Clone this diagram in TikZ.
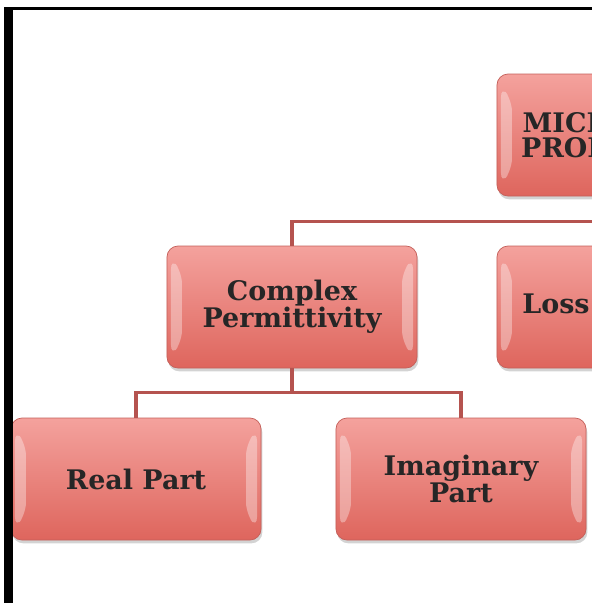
\documentclass[tikz,border=0pt]{standalone}
\usepackage{fontspec}
\setmainfont{DejaVu Serif}
\usetikzlibrary{shadows}
\definecolor{boxtop}{HTML}{F4A29D}
\definecolor{boxbot}{HTML}{DE655D}
\definecolor{boxedge}{HTML}{C4605A}
\definecolor{linkred}{HTML}{B5534F}
\newcommand{\boxbevel}{%
  \fill[white,opacity=.35] ([xshift=0.12cm,yshift=-0.35cm]path picture bounding box.north west) -- ([xshift=0.45cm,yshift=-0.8cm]path picture bounding box.north west) -- ([xshift=0.45cm,yshift=0.8cm]path picture bounding box.south west) -- ([xshift=0.12cm,yshift=0.35cm]path picture bounding box.south west) -- cycle;
  \fill[white,opacity=.35] ([xshift=-0.12cm,yshift=-0.35cm]path picture bounding box.north east) -- ([xshift=-0.45cm,yshift=-0.8cm]path picture bounding box.north east) -- ([xshift=-0.45cm,yshift=0.8cm]path picture bounding box.south east) -- ([xshift=-0.12cm,yshift=0.35cm]path picture bounding box.south east) -- cycle;}
\tikzset{
  propbox/.style={rounded corners=0.33cm, draw=boxedge, line width=0.6pt,
    top color=boxtop, bottom color=boxbot, minimum width=7.5cm, minimum height=3.66cm,
    align=center, font=\fontsize{23}{21}\selectfont\bfseries, text=black!85,
    drop shadow={opacity=0.35, shadow xshift=0.04cm, shadow yshift=-0.1cm},
    path picture={\boxbevel}},
  link/.style={draw=linkred, line width=0.1cm}
}
\begin{document}
\begin{tikzpicture}[x=0.03cm, y=-0.03cm]
	\useasboundingbox (0,0) rectangle (592,603);
	\clip (0,0) rectangle (592,603);
	% boxes
	\node[propbox] (micro) at (622,135) {MICROWAVE\\PROPERTIES};
	\node[propbox] (complex) at (292,307) {Complex\\Permittivity};
	\node[propbox] (loss) at (622,307) {Loss Tangent};
	\node[propbox] (real) at (136,479) {Real Part};
	\node[propbox] (imag) at (461,479) {Imaginary\\Part};
	% links
	\draw[link] (micro.south) -- ++(0,25) -| (complex.north);
	\draw[link] (micro.south) -- ++(0,25) -| (loss.north);
	\draw[link] (complex.south) -- ++(0,24) -| (real.north);
	\draw[link] (complex.south) -- ++(0,24) -| (imag.north);
	% frame
	\draw[line width=0.27cm] (8.5,603) -- (8.5,7);
	\draw[line width=0.09cm] (4,8.5) -- (592,8.5);
\end{tikzpicture}
\end{document}
